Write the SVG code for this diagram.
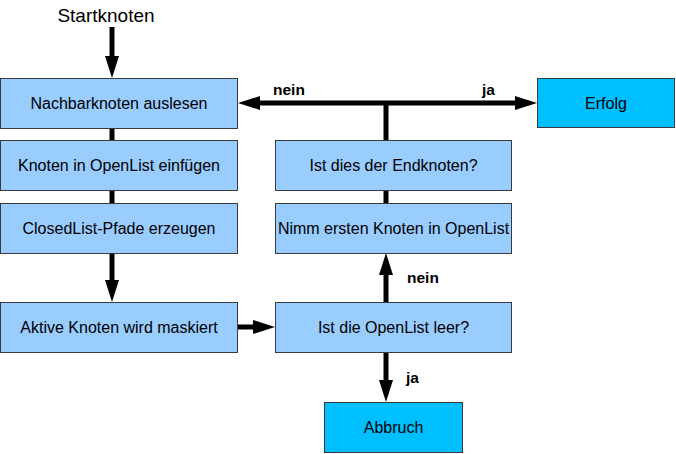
<svg xmlns="http://www.w3.org/2000/svg" width="676" height="454" viewBox="0 0 676 454">
<style>
.box{fill:#99ccff;stroke:#3a3a3a;stroke-width:1}
.box2{fill:#00bfff;stroke:#3a3a3a;stroke-width:1}
.t{font-family:"Liberation Sans",Arial,sans-serif;font-size:16px;fill:#000;text-anchor:middle}
.lbl{font-family:"Liberation Sans",Arial,sans-serif;font-size:15.5px;font-weight:bold;fill:#000}
.ln{stroke:#000;stroke-width:5;fill:none}
</style>
<defs>
<marker id="ah" markerUnits="userSpaceOnUse" markerWidth="24" markerHeight="16" refX="10" refY="7" orient="auto">
<path d="M0,0 L22,7 L0,14 Z" fill="#000"/>
</marker>
</defs>
<rect width="676" height="454" fill="#fff"/>
<text class="t" x="106" y="22" style="font-size:19px">Startknoten</text>
<g id="connectors">
<line class="ln" x1="112" y1="27" x2="112" y2="66" marker-end="url(#ah)"/>
<line class="ln" x1="112" y1="128" x2="112" y2="140"/>
<line class="ln" x1="112" y1="190" x2="112" y2="203"/>
<line class="ln" x1="112" y1="253" x2="112" y2="290" marker-end="url(#ah)"/>
<line class="ln" x1="238" y1="327" x2="263" y2="327" marker-end="url(#ah)"/>
<line class="ln" x1="386" y1="302" x2="386" y2="265" marker-end="url(#ah)"/>
<line class="ln" x1="386" y1="352" x2="386" y2="390" marker-end="url(#ah)"/>
<line class="ln" x1="386" y1="203" x2="386" y2="190"/>
<line class="ln" x1="386" y1="140" x2="386" y2="101"/>
<line class="ln" x1="386" y1="103" x2="250" y2="103" marker-end="url(#ah)"/>
<line class="ln" x1="386" y1="103" x2="525" y2="103" marker-end="url(#ah)"/>
<text class="lbl" x="273" y="95">nein</text>
<text class="lbl" x="482" y="95">ja</text>
<text class="lbl" x="407" y="283">nein</text>
<text class="lbl" x="406" y="383">ja</text>
</g>
<g id="n1"><rect class="box" x="0.5" y="78.5" width="237" height="50"/><text class="t" x="119" y="109">Nachbarknoten auslesen</text></g>
<g id="n2"><rect class="box" x="0.5" y="140.5" width="237" height="50"/><text class="t" x="119" y="171">Knoten in OpenList einfügen</text></g>
<g id="n3"><rect class="box" x="0.5" y="203.5" width="237" height="50"/><text class="t" x="119" y="234">ClosedList-Pfade erzeugen</text></g>
<g id="n4"><rect class="box" x="0.5" y="302.5" width="237" height="50"/><text class="t" x="119" y="333">Aktive Knoten wird maskiert</text></g>
<g id="n5"><rect class="box" x="275.5" y="140.5" width="236" height="50"/><text class="t" x="393.5" y="171">Ist dies der Endknoten?</text></g>
<g id="n6"><rect class="box" x="275.5" y="203.5" width="236" height="50"/><text class="t" x="393.5" y="234">Nimm ersten Knoten in OpenList</text></g>
<g id="n7"><rect class="box" x="275.5" y="302.5" width="236" height="50"/><text class="t" x="393.5" y="333">Ist die OpenList leer?</text></g>
<g id="n8"><rect class="box2" x="537.5" y="78.5" width="137" height="49"/><text class="t" x="606" y="109">Erfolg</text></g>
<g id="n9"><rect class="box2" x="324.5" y="402.5" width="138" height="50"/><text class="t" x="393.5" y="433">Abbruch</text></g>
</svg>
